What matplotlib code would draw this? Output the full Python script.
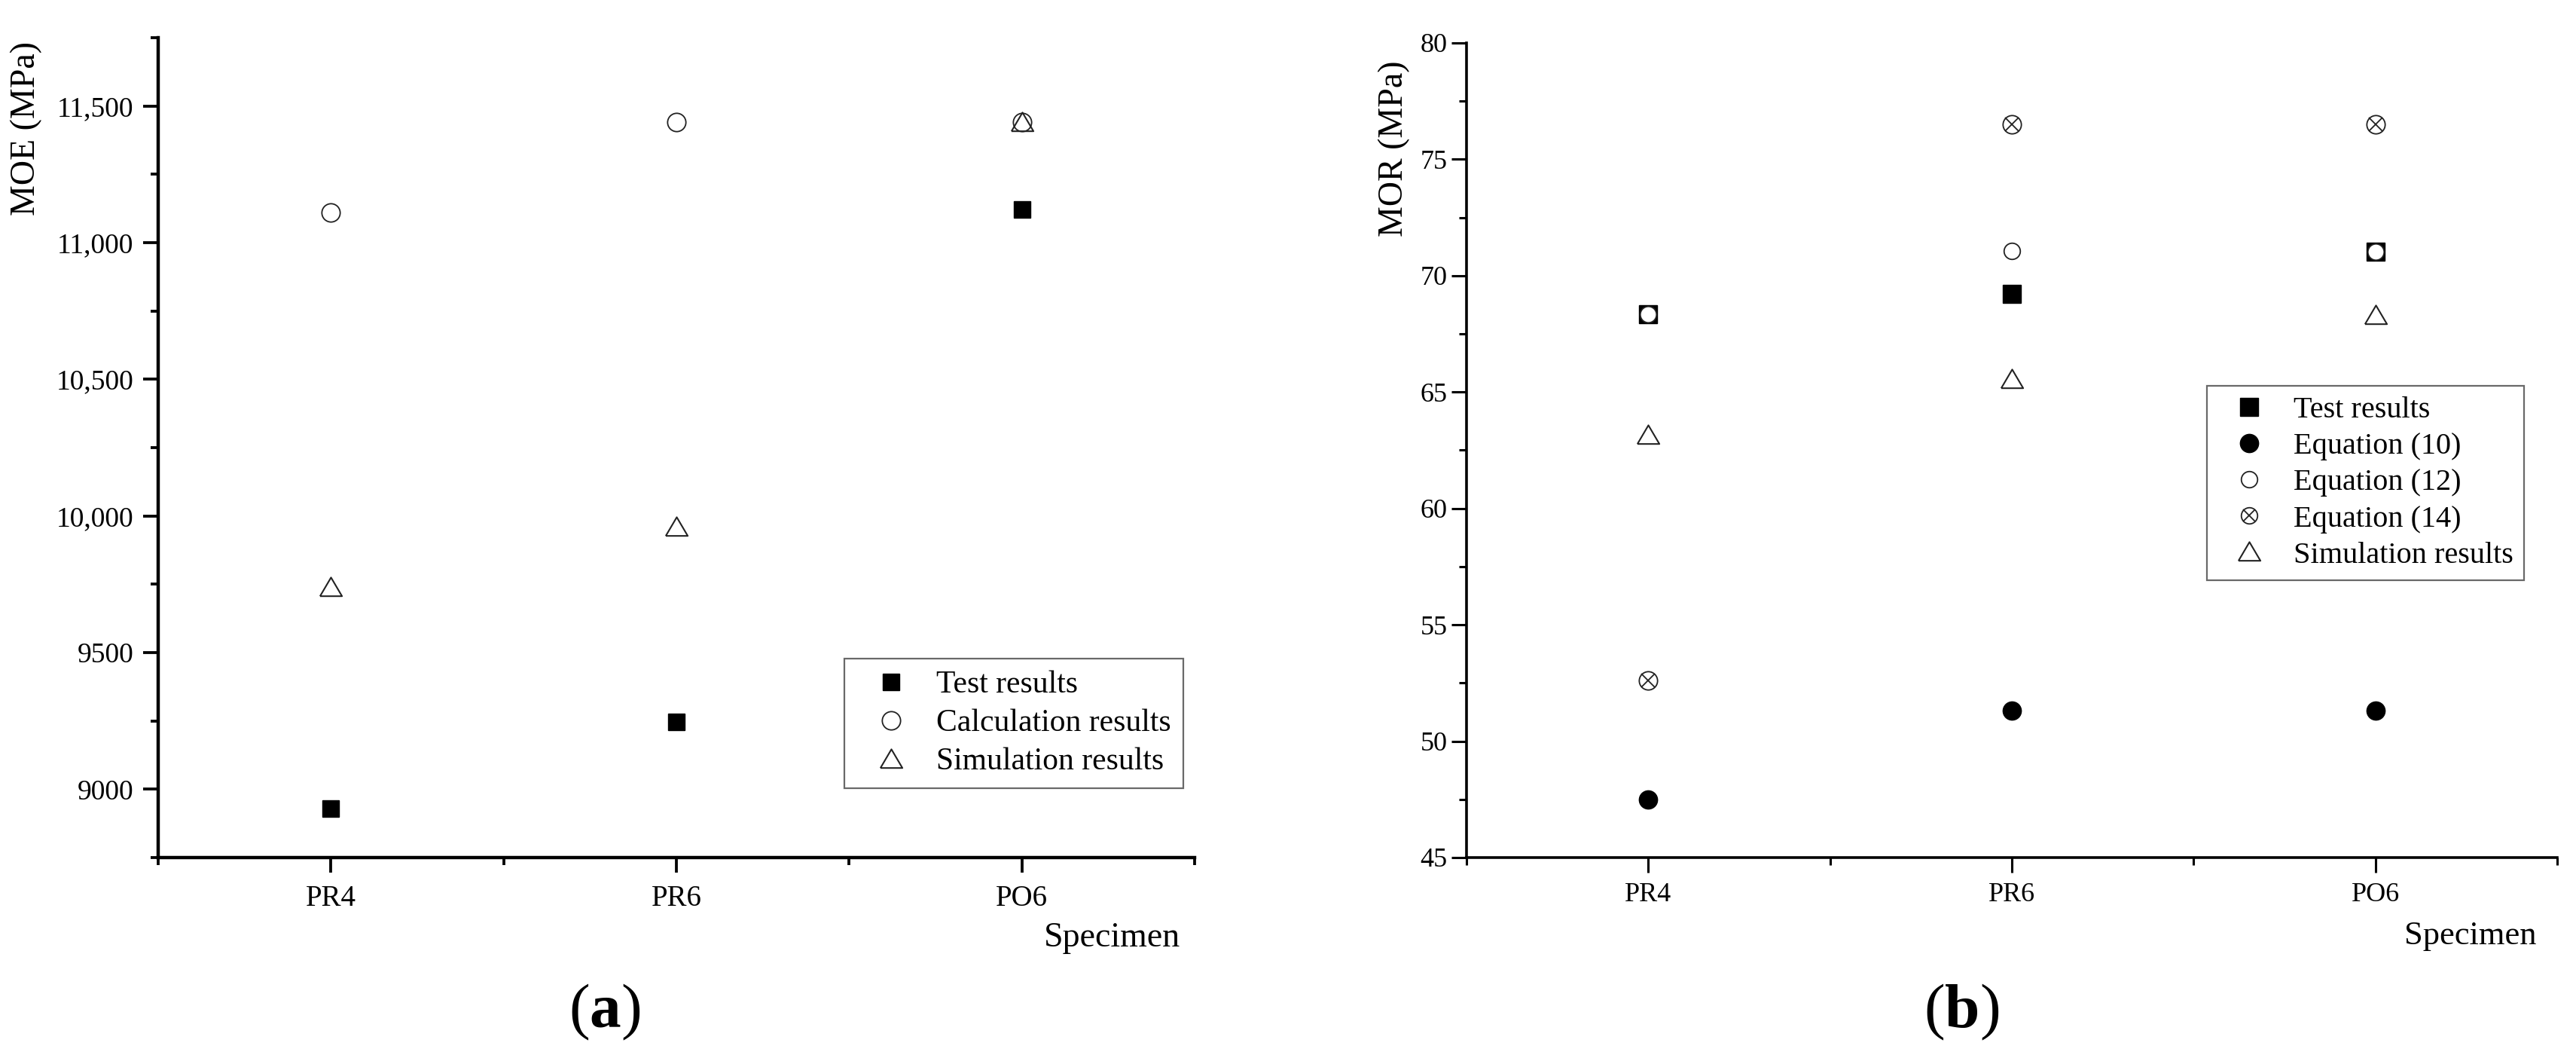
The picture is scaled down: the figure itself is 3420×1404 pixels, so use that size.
import numpy as np
import matplotlib
matplotlib.use("Agg")
import matplotlib.pyplot as plt
from matplotlib.ticker import MultipleLocator, FixedLocator, FixedFormatter

plt.rcParams['font.family'] = ['Liberation Serif', 'DejaVu Serif']
plt.rcParams['mathtext.fontset'] = 'custom'
plt.rcParams['mathtext.rm'] = 'Liberation Serif'
plt.rcParams['mathtext.bf'] = 'Liberation Serif:bold'

# ---------------- data ----------------
specimens = ['PR4', 'PR6', 'PO6']

# (a) MOE (MPa)
moe_test = [8930, 9245, 11120]
moe_calc = [11110, 11440, 11440]
moe_sim = [9740, 9960, 11440]
moe_ticks = [9000, 9500, 10000, 10500, 11000, 11500]
moe_tick_labels = ['9000', '9500', '10,000', '10,500', '11,000', '11,500']

# (b) MOR (MPa)
mor_test = [68.33, 69.22, 71.02]
mor_eq10 = [47.5, 51.3, 51.3]
mor_eq12 = [68.33, 71.06, 71.02]
mor_eq14 = [52.6, 76.5, 76.5]
mor_sim = [63.15, 65.55, 68.3]
mor_ticks = [45, 50, 55, 60, 65, 70, 75, 80]
mor_tick_labels = ['45', '50', '55', '60', '65', '70', '75', '80']

# ---------------- figure ----------------
W, H = 3420, 1404
fig = plt.figure(figsize=(W / 100, H / 100), dpi=100)

def fx(px):
    return px / W

def fy(py):
    return 1 - py / H

axA = fig.add_axes([fx(210), fy(1138), fx(1586) - fx(210), fy(50) - fy(1138)])
axB = fig.add_axes([fx(1947), fy(1138), fx(3395) - fx(1947), fy(57) - fy(1138)])

tri = [(-1, -0.8), (1, -0.8), (0, 0.9), (-1, -0.8)]
x = np.arange(len(specimens)) + 1

def style_axes(ax, lw, tick_size):
    for s in ['top', 'right']:
        ax.spines[s].set_visible(False)
    for s in ['left', 'bottom']:
        ax.spines[s].set_linewidth(lw)
    ax.set_xlim(0.5, 3.5)
    ax.set_xticks(x)
    ax.set_xticklabels(specimens, fontsize=tick_size)
    ax.xaxis.set_minor_locator(FixedLocator([0.5, 1.5, 2.5, 3.5]))
    ax.tick_params(which='major', direction='out', length=14.4, width=lw * 0.85)
    ax.tick_params(which='minor', direction='out', length=7.5, width=lw * 0.85)

# ---------- panel (a) ----------
ms_sq = 15.5
ms_c = 17.5
ms_t = 21
axA.plot(x, moe_test, ls='none', marker='s', ms=ms_sq, color='black', label='Test results', zorder=3)
axA.plot(x, moe_calc, ls='none', marker='o', ms=ms_c, mfc='white', mec='#222222', mew=1.3,
         label='Calculation results', zorder=3)
axA.plot(x, moe_sim, ls='none', marker=tri, ms=ms_t, mfc='none', mec='#222222', mew=1.5,
         label='Simulation results', zorder=4)
axA.set_ylim(8750, 11750)
axA.yaxis.set_major_locator(FixedLocator(moe_ticks))
axA.yaxis.set_major_formatter(FixedFormatter(moe_tick_labels))
axA.yaxis.set_minor_locator(MultipleLocator(250))
style_axes(axA, 3.2, 28)
axA.tick_params(axis='y', which='major', labelsize=27, pad=9)
axA.tick_params(axis='x', which='major', labelsize=28, pad=11.5)
axA.set_ylabel('MOE (MPa)', fontsize=33, loc='top')
axA.yaxis.set_label_coords(-0.112, 0.995)
axA.set_xlabel('Specimen', fontsize=33, loc='right')
axA.xaxis.set_label_coords(0.986, -0.079)
legA = axA.legend(loc='upper left', bbox_to_anchor=(fx(1121), fy(874)), bbox_transform=fig.transFigure,
                  fontsize=30, numpoints=1, frameon=True, fancybox=False, borderpad=0.38,
                  handlelength=2.2, handletextpad=0.35, labelspacing=0.3, borderaxespad=0)
legA.get_frame().set_edgecolor('#444444')
legA.get_frame().set_linewidth(1.6)

# ---------- panel (b) ----------
ms_sq2 = 17.5
ms_c2 = 17.5
axB.plot(x, mor_test, ls='none', marker='s', ms=ms_sq2, color='black', zorder=3)
axB.plot(x, mor_eq10, ls='none', marker='o', ms=ms_c2, color='black', zorder=3)
axB.plot(x, mor_eq12, ls='none', marker='o', ms=15.5, mfc='white', mec='#222222', mew=1.3, zorder=4)
axB.plot(x, mor_eq14, ls='none', marker='o', ms=ms_c2, mfc='white', mec='#222222', mew=1.3, zorder=4)
axB.plot(x, mor_eq14, ls='none', marker='x', ms=ms_c2 * 0.7, mec='#222222', mew=1.3, zorder=5)
axB.plot(x, mor_sim, ls='none', marker=tri, ms=ms_t, mfc='white', mec='#222222', mew=1.5, zorder=4)

h_test = plt.Line2D([], [], ls='none', marker='s', ms=ms_sq2, color='black')
h_eq10 = plt.Line2D([], [], ls='none', marker='o', ms=ms_c2, color='black')
h_eq12 = plt.Line2D([], [], ls='none', marker='o', ms=15.5, mfc='white', mec='#222222', mew=1.3)
h_eq14a = plt.Line2D([], [], ls='none', marker='o', ms=15.5, mfc='white', mec='#222222', mew=1.3)
h_eq14b = plt.Line2D([], [], ls='none', marker='x', ms=15.5 * 0.7, mec='#222222', mew=1.3)
h_sim = plt.Line2D([], [], ls='none', marker=tri, ms=ms_t, mfc='white', mec='#222222', mew=1.5)

axB.set_ylim(45, 80)
axB.yaxis.set_major_locator(FixedLocator(mor_ticks))
axB.yaxis.set_major_formatter(FixedFormatter(mor_tick_labels))
axB.yaxis.set_minor_locator(MultipleLocator(2.5))
style_axes(axB, 2.6, 26)
axB.tick_params(axis='y', which='major', labelsize=26, pad=4)
axB.tick_params(axis='x', which='major', labelsize=26, pad=9)
axB.set_ylabel('MOR (MPa)', fontsize=33, loc='top')
axB.yaxis.set_label_coords(-0.052, 0.978)
axB.set_xlabel('Specimen', fontsize=32, loc='right')
axB.xaxis.set_label_coords(0.981, -0.078)
legB = axB.legend([h_test, h_eq10, h_eq12, (h_eq14a, h_eq14b), h_sim],
                  ['Test results', 'Equation (10)', 'Equation (12)', 'Equation (14)', 'Simulation results'],
                  loc='upper left', bbox_to_anchor=(fx(2930), fy(512)), bbox_transform=fig.transFigure,
                  fontsize=29, numpoints=1, frameon=True, fancybox=False, borderpad=0.35,
                  handlelength=2.1, handletextpad=0.4, labelspacing=0.27, borderaxespad=0)
legB.get_frame().set_edgecolor('#444444')
legB.get_frame().set_linewidth(1.6)

# ---------- panel letters ----------
fig.text(fx(803), fy(1363), r'$\mathregular{(}\mathbf{a}\mathregular{)}$', fontsize=60,
         ha='center', va='baseline')
fig.text(fx(2604), fy(1363), r'$\mathregular{(}\mathbf{b}\mathregular{)}$', fontsize=60,
         ha='center', va='baseline')

fig.savefig('out.png', dpi=100, facecolor='white')
